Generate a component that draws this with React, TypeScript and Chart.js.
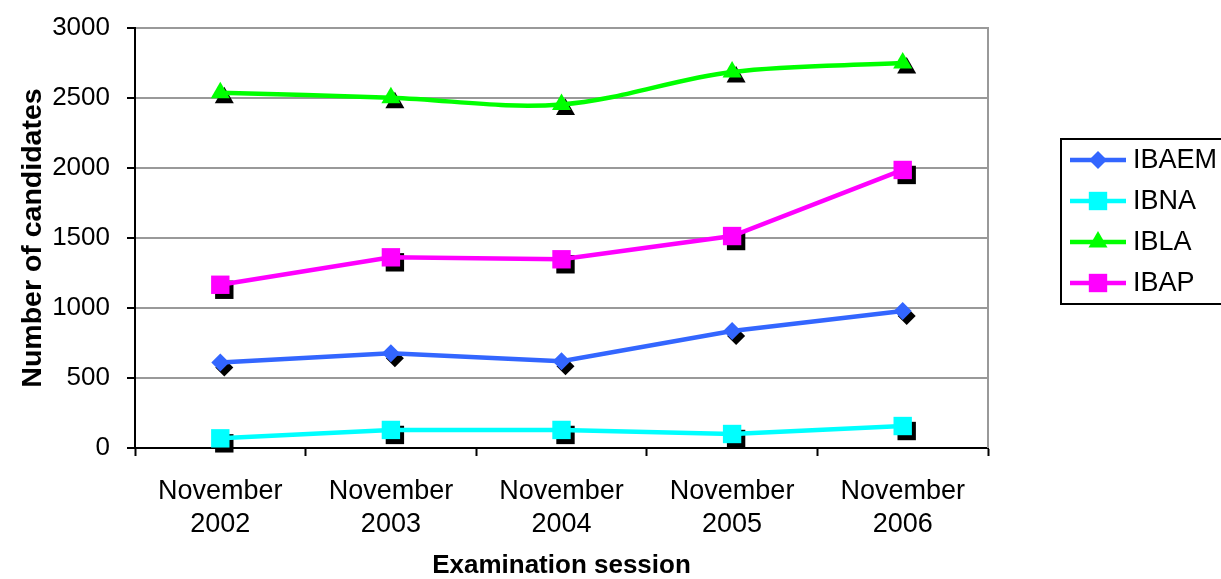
import React, { useEffect, useRef } from 'react';
import { Chart, registerables } from 'chart.js';

Chart.register(...registerables);

const categories: string[][] = [
  ['November', '2002'],
  ['November', '2003'],
  ['November', '2004'],
  ['November', '2005'],
  ['November', '2006'],
];
const seriesNames = ['IBAEM', 'IBNA', 'IBLA', 'IBAP'];
const ibaem = [610, 677, 620, 836, 979];
const ibna = [69, 129, 129, 100, 157];
const ibla = [2538, 2502, 2454, 2686, 2750];
const ibap = [1166, 1362, 1348, 1514, 1986];
const yTickValues = [0, 500, 1000, 1500, 2000, 2500, 3000];

const colors = ['#3366FF', '#00FFFF', '#00FF00', '#FF00FF'];
const styles = ['rectRot', 'rect', 'triangle', 'rect'];
const radii = [9, 13, 11, 13];
const FONT = "'Liberation Sans', Arial, sans-serif";

function markerPath(ctx: CanvasRenderingContext2D, style: string, x: number, y: number, r: number) {
  ctx.beginPath();
  if (style === 'rect') {
    const s = r * Math.SQRT1_2;
    ctx.rect(x - s, y - s, 2 * s, 2 * s);
  } else if (style === 'rectRot') {
    ctx.moveTo(x - r, y);
    ctx.lineTo(x, y - r);
    ctx.lineTo(x + r, y);
    ctx.lineTo(x, y + r);
    ctx.closePath();
  } else {
    ctx.moveTo(x, y - r);
    ctx.lineTo(x + 0.866 * r, y + 0.5 * r);
    ctx.lineTo(x - 0.866 * r, y + 0.5 * r);
    ctx.closePath();
  }
}

const shadowPlugin = {
  id: 'markerShadow',
  beforeDatasetsDraw(chart: any) {
    const ctx = chart.ctx as CanvasRenderingContext2D;
    ctx.save();
    const a = chart.chartArea;
    ctx.strokeStyle = '#999999';
    ctx.lineWidth = 2;
    ctx.beginPath();
    ctx.moveTo(a.right, a.top - 1);
    ctx.lineTo(a.right, a.bottom);
    ctx.stroke();
    ctx.fillStyle = '#000000';
    chart.data.datasets.forEach((ds: any, i: number) => {
      const meta = chart.getDatasetMeta(i);
      meta.data.forEach((pt: any) => {
        markerPath(ctx, styles[i], pt.x + 4, pt.y + 5, radii[i]);
        ctx.fill();
      });
    });
    ctx.restore();
  },
};

const legendPlugin = {
  id: 'customLegend',
  afterDraw(chart: any) {
    const ctx = chart.ctx as CanvasRenderingContext2D;
    ctx.save();
    ctx.strokeStyle = '#000000';
    ctx.lineWidth = 2;
    ctx.strokeRect(1061, 139, 200, 165);
    const rowsY = [160, 201, 242, 283];
    seriesNames.forEach((name, i) => {
      const y = rowsY[i];
      ctx.strokeStyle = colors[i];
      ctx.lineWidth = 4.5;
      ctx.beginPath();
      ctx.moveTo(1070, y);
      ctx.lineTo(1126, y);
      ctx.stroke();
      ctx.fillStyle = colors[i];
      markerPath(ctx, styles[i], 1098, y, radii[i]);
      ctx.fill();
      ctx.fillStyle = '#000000';
      ctx.font = `27px ${FONT}`;
      ctx.textAlign = 'left';
      ctx.textBaseline = 'middle';
      ctx.fillText(name, 1133, y + 1);
    });
    ctx.restore();
  },
};

export default function App() {
  const ref = useRef<HTMLCanvasElement | null>(null);
  useEffect(() => {
    if (!ref.current) return;
    const data = [ibaem, ibna, ibla, ibap];
    const chart = new Chart(ref.current, {
      type: 'line',
      data: {
        labels: categories,
        datasets: seriesNames.map((name, i) => ({
          label: name,
          data: data[i],
          borderColor: colors[i],
          backgroundColor: colors[i],
          borderWidth: 4.5,
          pointStyle: styles[i] as any,
          pointRadius: radii[i],
          pointHoverRadius: radii[i],
          pointBorderWidth: 0,
          pointBackgroundColor: colors[i],
          tension: name === 'IBLA' ? 0.35 : 0,
          fill: false,
        })),
      },
      options: {
        animation: false,
        responsive: false,
        maintainAspectRatio: false,
        events: [],
        layout: { padding: { top: 28, right: 233, bottom: 0, left: 0 } },
        plugins: {
          legend: { display: false },
          tooltip: { enabled: false },
        },
        scales: {
          x: {
            type: 'category',
            offset: true,
            grid: {
              offset: true,
              drawOnChartArea: false,
              drawTicks: true,
              tickLength: 8,
              tickColor: '#000000',
              tickWidth: 2,
            },
            border: { display: true, color: '#000000', width: 2 },
            ticks: {
              color: '#000000',
              font: { family: FONT, size: 27, lineHeight: 1.22 },
              padding: 19,
              maxRotation: 0,
              autoSkip: false,
            },
            title: {
              display: true,
              text: 'Examination session',
              color: '#000000',
              font: { family: FONT, size: 26, weight: 'bold', lineHeight: 1.0 },
              padding: { top: 0, bottom: 0 },
            },
            afterFit: (scale: any) => {
              scale.height = 131;
            },
          },
          y: {
            type: 'linear',
            min: 0,
            max: 3000,
            afterBuildTicks: (scale: any) => {
              scale.ticks = yTickValues.map((v) => ({ value: v }));
            },
            grid: {
              color: '#999999',
              lineWidth: 2,
              drawTicks: true,
              tickLength: 8,
              tickColor: '#000000',
              tickWidth: 2,
            },
            border: { display: true, color: '#000000', width: 2 },
            ticks: {
              color: '#000000',
              font: { family: FONT, size: 26, lineHeight: 0.8 },
              padding: 17,
              callback: (v: any) => String(v),
            },
            title: {
              display: true,
              text: 'Number of candidates',
              color: '#000000',
              font: { family: FONT, size: 28.5, weight: 'bold', lineHeight: 1.2 },
              padding: { top: 16, bottom: 0 },
            },
            afterFit: (scale: any) => {
              scale.width = 135;
            },
          },
        },
      },
      plugins: [shadowPlugin, legendPlugin],
    });
    return () => chart.destroy();
  }, []);
  return (
    <div style={{ position: 'fixed', left: 0, top: 0, width: 1221, height: 579, background: '#ffffff' }}>
      <canvas ref={ref} width={1221} height={579} style={{ display: 'block', width: 1221, height: 579 }} />
    </div>
  );
}
